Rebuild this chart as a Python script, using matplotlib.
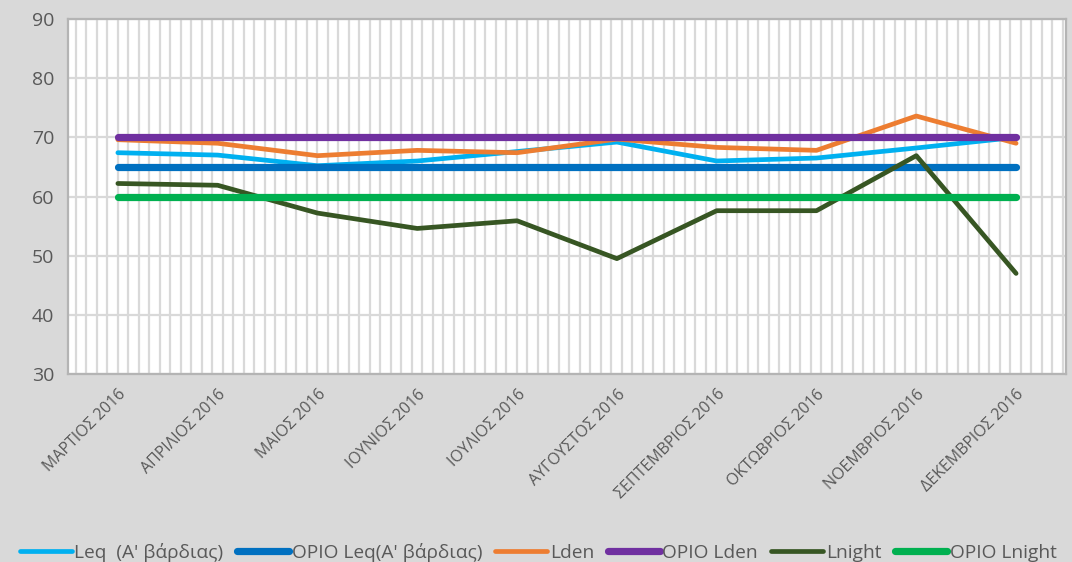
import numpy as np
import matplotlib.pyplot as plt

months = ['ΜΑΡΤΙΟΣ 2016', 'ΑΠΡΙΛΙΟΣ 2016', 'ΜΑΙΟΣ 2016', 'ΙΟΥΝΙΟΣ 2016', 'ΙΟΥΛΙΟΣ 2016',
          'ΑΥΓΟΥΣΤΟΣ 2016', 'ΣΕΠΤΕΜΒΡΙΟΣ 2016', 'ΟΚΤΩΒΡΙΟΣ 2016', 'ΝΟΕΜΒΡΙΟΣ 2016', 'ΔΕΚΕΜΒΡΙΟΣ 2016']

leq = [67.4, 67.0, 65.2, 66.0, 67.6, 69.2, 66.0, 66.5, 68.2, 70.0]
opio_leq = [65] * 10
lden = [69.6, 69.0, 66.9, 67.8, 67.4, 69.7, 68.3, 67.8, 73.6, 69.0]
opio_lden = [70] * 10
lnight = [62.2, 61.9, 57.2, 54.6, 55.9, 49.5, 57.6, 57.6, 66.9, 47.0]
opio_lnight = [60] * 10

series = [
    ('Leq  (Α\' βάρδιας)', leq, '#00b0f0', 3.4),
    ('ΟΡΙΟ Leq(Α\' βάρδιας)', opio_leq, '#0070c0', 5.2),
    ('Lden', lden, '#ed7d31', 3.4),
    ('ΟΡΙΟ Lden', opio_lden, '#7030a0', 5.2),
    ('Lnight', lnight, '#375623', 3.4),
    ('ΟΡΙΟ Lnight', opio_lnight, '#00b050', 5.2),
]

txt = '#595959'
bg = '#d9d9d9'
plt.rcParams['font.family'] = ['Open Sans', 'DejaVu Sans']

fig = plt.figure(figsize=(10.72, 5.62), dpi=100, facecolor=bg)
ax = fig.add_axes([0.0634, 0.3345, 0.931, 0.6317])
ax.set_facecolor('white')

x = np.arange(len(months))
for name, vals, col, lw in series:
    ax.plot(x, vals, color=col, lw=lw, label=name, solid_capstyle='round',
            solid_joinstyle='round', zorder=3)

ax.set_xlim(-0.5, len(months) - 0.5)
ax.set_ylim(30, 90)
ax.set_yticks(range(30, 91, 10))
ax.set_xticks(x)
ax.set_xticklabels(months, rotation=45, ha='right', rotation_mode='anchor',
                   fontsize=11.5, color=txt)
ax.tick_params(axis='x', length=0, pad=9)
ax.tick_params(axis='y', length=0, pad=10, labelsize=14, labelcolor=txt)

# dense vertical grid lines, horizontal ones every 10
vgrid = np.arange(-0.42, 9.5, 0.1052)
ax.set_xticks(vgrid, minor=True)
ax.tick_params(axis='x', which='minor', length=0)
ax.grid(axis='x', which='minor', color='#d9d9d9', lw=1.6, zorder=0)
ax.grid(axis='y', which='major', color='#d9d9d9', lw=1.6, zorder=0)
ax.set_axisbelow(True)

for s in ax.spines.values():
    s.set_color('#b4b4b4')
    s.set_linewidth(1.6)

fig.legend(loc='lower center', bbox_to_anchor=(0.502, -0.03), ncol=6, frameon=False,
           fontsize=13.8, labelcolor=txt, handlelength=2.7, handletextpad=0.15,
           columnspacing=0.7)

fig.savefig('out.png', dpi=100, facecolor=bg)
